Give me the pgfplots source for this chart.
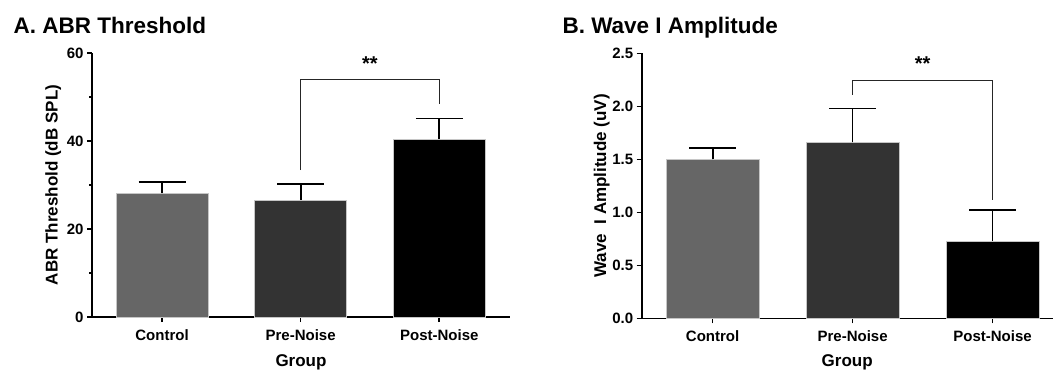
\documentclass[border=0pt]{standalone}
\usepackage{pgfplots}
\pgfplotsset{compat=1.18}
\usepackage{fontspec}
\setmainfont{Liberation Sans}

\definecolor{ctrlgray}{HTML}{666666}
\definecolor{pregray}{HTML}{333333}

\pgfplotsset{
  prism/.style={
    scale only axis,
    axis x line*=bottom,
    axis y line*=left,
    axis line style={line width=1.6pt, black},
    every tick/.style={black, line width=1.6pt},
    major tick length=5pt,
    minor tick length=3pt,
    tick align=outside,
    xtick={0,1,2},
    xticklabels={Control,Pre-Noise,Post-Noise},
    xticklabel style={yshift=-4pt},
    /pgf/number format/assume math mode=true,
    ticklabel style={font=\bfseries\fontsize{15}{18}\selectfont},
    label style={font=\bfseries\fontsize{17}{20}\selectfont},
    xlabel={Group},
    ymin=0,
    clip=false,
    ybar,
    bar shift=0pt,
    error bars/y dir=plus,
    error bars/y explicit,
    error bars/error mark=|,
    error bars/error bar style={line width=1.8pt, black},
    error bars/error mark options={line width=1.8pt, black, mark size=23.5pt},
  },
  barstyle/.style={draw=gray!45, line width=0.8pt, fill=#1},
}

\begin{document}
\begin{tikzpicture}
\useasboundingbox (0pt,0pt) rectangle (1057pt,-372pt);

% Panel A: ABR threshold
\node[anchor=base west, font=\bfseries\fontsize{22.5}{26}\selectfont] at (10pt,-33pt) {A. ABR Threshold};
\begin{axis}[prism,
  at={(92pt,-317pt)}, anchor=south west,
  width=418pt, height=264pt,
  xmin=-0.505, xmax=2.51,
  ymax=60,
  ytick={0,20,40,60},
  minor ytick={10,30,50},
  bar width=92pt,
  ylabel={ABR Threshold (dB SPL)},
  ylabel style={at={(axis description cs:-0.093,0.5)}, anchor=center},
  xlabel style={at={(axis description cs:0.5,-0.172)}, anchor=center},
]
\addplot[barstyle=ctrlgray] coordinates {(0,28.1) +- (0,2.5)};
\addplot[barstyle=pregray]  coordinates {(1,26.6) +- (0,3.6)};
\addplot[barstyle=black]    coordinates {(2,40.4) +- (0,4.7)};
\draw[line width=1pt, black!85] (axis cs:1,33.4) -- (axis cs:1,53.9) -- (axis cs:2,53.9) -- (axis cs:2,48.3);
\node[anchor=base, font=\bfseries\fontsize{20}{24}\selectfont] at (axis cs:1.5,56.0) {**};
\end{axis}

% Panel B: wave I amplitude
\node[anchor=base west, font=\bfseries\fontsize{22.5}{26}\selectfont] at (559pt,-33pt) {B. Wave I Amplitude};
\begin{axis}[prism,
  at={(641.7pt,-318.3pt)}, anchor=south west,
  width=411pt, height=265pt,
  xmin=-0.507, xmax=2.43,
  ymax=2.5,
  ytick={0,0.5,1,1.5,2,2.5},
  yticklabel style={/pgf/number format/.cd, fixed, fixed zerofill, precision=1},
  bar width=93pt,
  ylabel={Wave\ \ I Amplitude (uV)},
  ylabel style={at={(axis description cs:-0.097,0.5)}, anchor=center},
  xlabel style={at={(axis description cs:0.5,-0.167)}, anchor=center},
]
\addplot[barstyle=ctrlgray] coordinates {(0,1.50) +- (0,0.11)};
\addplot[barstyle=pregray]  coordinates {(1,1.66) +- (0,0.32)};
\addplot[barstyle=black]    coordinates {(2,0.73) +- (0,0.29)};
\draw[line width=1pt, black!85] (axis cs:1,2.11) -- (axis cs:1,2.24) -- (axis cs:2,2.24) -- (axis cs:2,1.12);
\node[anchor=base, font=\bfseries\fontsize{20}{24}\selectfont] at (axis cs:1.5,2.34) {**};
\end{axis}
\end{tikzpicture}
\end{document}
